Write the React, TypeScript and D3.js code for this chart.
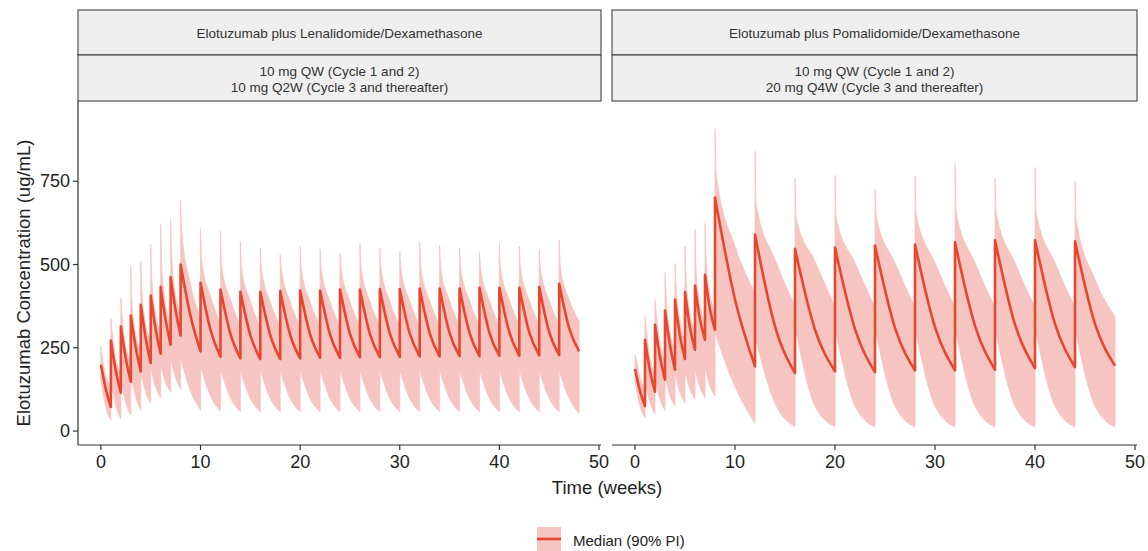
import * as d3 from 'd3';

// dosing schedules (weeks)
const leftDoseWeeks = [0, 1, 2, 3, 4, 5, 6, 7, 8, 10, 12, 14, 16, 18, 20, 22, 24, 26, 28, 30, 32, 34, 36, 38, 40, 42, 44, 46];
const rightDoseWeeks = [0, 1, 2, 3, 4, 5, 6, 7, 8, 12, 16, 20, 24, 28, 32, 36, 40, 44];
const endWeek = 48;

// left panel: median at dose / mid-interval / end of interval
const leftMedianPeak = [199, 272, 314, 347, 379, 407, 433, 462, 500, 445, 425, 418, 418, 420, 422, 422, 425, 425, 426, 426, 428, 428, 428, 430, 430, 430, 432, 442];
const leftMedianMid = [125, 180, 218, 250, 278, 305, 333, 362, 345, 304, 292, 288, 288, 289, 290, 290, 292, 292, 293, 293, 294, 294, 295, 295, 296, 296, 297, 309];
const leftMedianTrough = [72, 115, 148, 179, 204, 232, 259, 287, 239, 223, 218, 216, 216, 218, 220, 220, 222, 222, 223, 224, 224, 225, 225, 226, 226, 227, 228, 239];
// left panel: 90% PI
const leftUpperTip = [254, 337, 400, 495, 510, 560, 620, 637, 694, 607, 600, 570, 550, 530, 555, 547, 535, 563, 550, 540, 567, 557, 550, 537, 563, 555, 545, 572];
const leftUpperShoulder = [225, 300, 345, 385, 420, 455, 485, 515, 600, 510, 495, 488, 485, 485, 486, 486, 486, 487, 487, 487, 488, 488, 488, 488, 489, 489, 489, 492];
const leftUpperMid = [165, 215, 255, 290, 320, 350, 380, 410, 440, 405, 395, 390, 388, 388, 389, 389, 389, 390, 390, 390, 391, 391, 391, 391, 392, 392, 392, 395];
const leftUpperEnd = [135, 175, 210, 245, 275, 300, 330, 355, 340, 320, 315, 312, 312, 312, 314, 314, 314, 315, 315, 315, 316, 316, 316, 316, 317, 317, 317, 330];
const leftLowerStart = [150, 150, 160, 170, 180, 190, 200, 215, 220, 195, 185, 182, 182, 182, 182, 182, 182, 182, 182, 182, 182, 182, 182, 182, 182, 182, 182, 182];
const leftLowerMid = [70, 75, 85, 100, 115, 130, 145, 160, 120, 105, 100, 98, 98, 98, 98, 98, 98, 98, 98, 98, 98, 98, 98, 98, 98, 98, 98, 98];
const leftLowerEnd = [33, 36, 48, 63, 84, 99, 117, 126, 63, 60, 58, 58, 58, 58, 58, 58, 58, 58, 58, 58, 58, 58, 58, 58, 58, 58, 58, 54];

// right panel
const rightMedianPeak = [186, 274, 319, 362, 395, 417, 437, 469, 701, 590, 547, 551, 557, 560, 567, 573, 573, 570];
const rightMedianMid = [120, 180, 222, 258, 285, 310, 335, 365, 395, 314, 304, 306, 310, 312, 316, 320, 322, 322];
const rightMedianTrough = [75, 118, 154, 184, 216, 244, 274, 304, 194, 174, 179, 177, 182, 182, 184, 189, 192, 196];
const rightUpperTip = [229, 344, 395, 475, 503, 555, 605, 625, 907, 841, 758, 768, 726, 766, 801, 758, 791, 751];
const rightUpperShoulder = [215, 310, 355, 400, 430, 455, 480, 510, 770, 680, 640, 640, 645, 650, 656, 655, 655, 636];
const rightUpperMid = [160, 220, 265, 300, 330, 355, 380, 410, 555, 515, 510, 505, 505, 505, 505, 505, 505, 455];
const rightUpperEnd = [130, 170, 210, 240, 270, 300, 325, 350, 415, 375, 372, 370, 370, 370, 370, 370, 370, 344];
const rightLowerStart = [150, 150, 160, 165, 175, 180, 185, 190, 294, 284, 314, 310, 310, 310, 310, 310, 310, 310];
const rightLowerMid = [75, 85, 95, 105, 115, 125, 130, 135, 133, 83, 75, 75, 75, 75, 75, 75, 75, 75];
const rightLowerEnd = [40, 52, 62, 75, 85, 95, 100, 105, 23, 13, 13, 12, 12, 12, 12, 12, 12, 12];

const xTicks = [0, 10, 20, 30, 40, 50];
const yTicks = [0, 250, 500, 750];

const leftStrip = ['Elotuzumab plus Lenalidomide/Dexamethasone', '10 mg QW (Cycle 1 and 2)', '10 mg Q2W (Cycle 3 and thereafter)'];
const rightStrip = ['Elotuzumab plus Pomalidomide/Dexamethasone', '10 mg QW (Cycle 1 and 2)', '20 mg Q4W (Cycle 3 and thereafter)'];

const FONT = '"Liberation Sans", Arial, Helvetica, sans-serif';
const BAND = '#f6c5c1';
const LINE = '#e8472f';

const plotTop = 101;
const plotBottom = 445;

const y = d3.scaleLinear().domain([-42, 991]).range([plotBottom, plotTop]);

function buildIntervals(doses: number[], med: number[][], up: number[][], low: number[][]) {
  return doses.map((t0, i) => ({
    t0,
    t1: i < doses.length - 1 ? doses[i + 1] : endWeek,
    medPeak: med[0][i], medMid: med[1][i], medTrough: med[2][i],
    upTip: up[0][i], upShoulder: up[1][i], upMid: up[2][i], upEnd: up[3][i],
    lowStart: low[0][i], lowMid: low[1][i], lowEnd: low[2][i],
  }));
}

const leftIntervals = buildIntervals(
  leftDoseWeeks,
  [leftMedianPeak, leftMedianMid, leftMedianTrough],
  [leftUpperTip, leftUpperShoulder, leftUpperMid, leftUpperEnd],
  [leftLowerStart, leftLowerMid, leftLowerEnd]
);
const rightIntervals = buildIntervals(
  rightDoseWeeks,
  [rightMedianPeak, rightMedianMid, rightMedianTrough],
  [rightUpperTip, rightUpperShoulder, rightUpperMid, rightUpperEnd],
  [rightLowerStart, rightLowerMid, rightLowerEnd]
);

type Interval = ReturnType<typeof buildIntervals>[number];

function Panel({ x0, x1, intervals, strip, showY }: { x0: number; x1: number; intervals: Interval[]; strip: string[]; showY: boolean }) {
  const x = d3.scaleLinear().domain([-2.3, 50.2]).range([x0, x1]);
  const line = d3.line<[number, number]>()
    .x(d => x(d[0]))
    .y(d => y(d[1]))
    .curve(d3.curveMonotoneX);

  const bands = intervals.map(iv => {
    const tm = (iv.t0 + iv.t1) / 2;
    const upper: [number, number][] = [[iv.t0, iv.upTip], [iv.t0 + 0.12, iv.upShoulder], [tm, iv.upMid], [iv.t1, iv.upEnd]];
    const lower: [number, number][] = [[iv.t1, iv.lowEnd], [tm, iv.lowMid], [iv.t0, iv.lowStart]];
    return line(upper)! + line(lower)!.replace(/^M/, 'L') + 'Z';
  });

  const median = intervals.map((iv, i) => {
    const tm = (iv.t0 + iv.t1) / 2;
    const p = line([[iv.t0, iv.medPeak], [tm, iv.medMid], [iv.t1, iv.medTrough]])!;
    return i === 0 ? p : p.replace(/^M/, 'L');
  }).join('');

  const cx = (x0 + x1) / 2;
  return (
    <g>
      <rect x={x0} y={10} width={x1 - x0} height={45} fill="#efefef" stroke="#333" strokeWidth={1} />
      <rect x={x0} y={55} width={x1 - x0} height={46} fill="#efefef" stroke="#333" strokeWidth={1} />
      <text x={cx} y={33} textAnchor="middle" dominantBaseline="central" fontSize={13.5} fill="#333">{strip[0]}</text>
      <text x={cx} y={71} textAnchor="middle" dominantBaseline="central" fontSize={13.5} fill="#333">{strip[1]}</text>
      <text x={cx} y={87} textAnchor="middle" dominantBaseline="central" fontSize={13.5} fill="#333">{strip[2]}</text>

      <g>
        {bands.map((d, i) => (
          <path key={i} d={d} fill={BAND} stroke={BAND} strokeWidth={0.8} strokeLinejoin="round" />
        ))}
      </g>
      <path d={median} fill="none" stroke={LINE} strokeWidth={2.6} strokeLinejoin="round" />

      <line x1={x0} x2={x1} y1={plotBottom} y2={plotBottom} stroke="#333" strokeWidth={1.2} />
      {xTicks.map(t => (
        <g key={t} transform={`translate(${x(t)},${plotBottom})`}>
          <line y2={5} stroke="#333" strokeWidth={1.2} />
          <text y={17} textAnchor="middle" dominantBaseline="central" fontSize={18} fill="#222">{t}</text>
        </g>
      ))}
      {showY && (
        <g>
          <line x1={x0} x2={x0} y1={plotTop} y2={plotBottom} stroke="#333" strokeWidth={1.2} />
          {yTicks.map(t => (
            <g key={t} transform={`translate(${x0},${y(t)})`}>
              <line x2={-5} stroke="#333" strokeWidth={1.2} />
              <text x={-8} textAnchor="end" dominantBaseline="central" fontSize={18} fill="#222">{t}</text>
            </g>
          ))}
        </g>
      )}
    </g>
  );
}

export default function App() {
  return (
    <svg width={1148} height={551} style={{ position: 'absolute', left: 0, top: 0, background: '#fff' }} fontFamily={FONT}>
      <rect width={1148} height={551} fill="#fff" />
      <Panel x0={78} x1={601} intervals={leftIntervals} strip={leftStrip} showY={true} />
      <Panel x0={612} x1={1137} intervals={rightIntervals} strip={rightStrip} showY={false} />

      <text transform={`translate(23,${(plotTop + plotBottom) / 2 + 10}) rotate(-90)`} textAnchor="middle" dominantBaseline="central" fontSize={18.5} fill="#222">
        Elotuzumab Concentration (ug/mL)
      </text>
      <text x={607} y={487} textAnchor="middle" dominantBaseline="central" fontSize={18.5} fill="#222">Time (weeks)</text>

      <g transform="translate(537,527)">
        <rect width={24} height={24} fill={BAND} />
        <line x1={0} x2={24} y1={12} y2={12} stroke={LINE} strokeWidth={2.6} />
        <text x={36} y={13} dominantBaseline="central" fontSize={15} fill="#222">Median (90% PI)</text>
      </g>
    </svg>
  );
}
